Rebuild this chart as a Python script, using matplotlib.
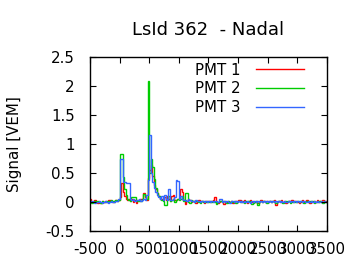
import numpy as np
import matplotlib
matplotlib.use('Agg')
import matplotlib.pyplot as plt

# trace signals in 25 ns bins, from -500 ns to 3500 ns
t_start = -500
t_stop = 3500
bin_width = 25

pmt1 = [0.05, 0.0, 0.02, 0.04, 0.0, -0.01, 0.0, -0.02, 0.01, 0.0, 0.02, 0.0, 0.04, 0.03, 0.01, 0.0, 0.02, 0.04, 0.01, 0.03,
        0.08, 0.32, 0.18, 0.1, 0.05, 0.03, 0.05, 0.02, 0.06, 0.0, 0.03, -0.01, 0.04, 0.02, 0.05, 0.06, 0.15, 0.08, 0.04, 0.42,
        0.55, 0.64, 0.45, 0.3, 0.22, 0.15, 0.1, 0.06, 0.05, 0.03, 0.08, 0.04, 0.1, 0.05, 0.02, 0.1, 0.12, 0.04, 0.03, 0.05,
        0.05, 0.22, 0.18, 0.04, -0.03, 0.02, 0.05, 0.03, 0.0, 0.02, 0.01, -0.02, 0.01, 0.03, 0.0, 0.02, 0.0, -0.02, 0.01, 0.0,
        0.02, 0.0, 0.01, 0.03, 0.08, 0.0, -0.01, 0.0, 0.02, 0.0, -0.03, 0.01, 0.0, 0.02, 0.0, 0.01, -0.01, 0.0, 0.02, 0.0,
        0.04, 0.04, 0.0, 0.01, 0.03, 0.0, -0.02, 0.01, 0.03, 0.0, 0.02, 0.0, 0.01, -0.02, 0.0, 0.03, 0.0, 0.01, 0.0, 0.02,
        0.0, 0.02, 0.0, 0.01, 0.03, -0.05, 0.0, 0.01, 0.0, 0.03, 0.0, 0.02, -0.01, 0.0, 0.01, 0.0, 0.03, 0.0, 0.02, 0.01,
        0.0, -0.02, 0.0, 0.03, 0.0, 0.01, 0.04, 0.0, -0.02, 0.01, 0.0, 0.02, 0.0, 0.03, 0.0, 0.01, 0.0, 0.04, 0.0, 0.02]

pmt2 = [0.01, -0.02, 0.0, 0.01, 0.0, 0.02, 0.0, -0.01, 0.01, 0.0, 0.0, 0.02, 0.0, 0.01, 0.04, 0.02, 0.0, 0.03, 0.01, 0.04,
        0.82, 0.82, 0.43, 0.22, 0.12, 0.06, 0.04, 0.02, 0.08, 0.08, 0.08, 0.02, 0.01, 0.04, 0.02, 0.06, 0.13, 0.1, 0.05, 2.09,
        0.5, 0.74, 0.6, 0.4, 0.25, 0.15, 0.1, 0.06, 0.04, 0.02, -0.05, -0.06, 0.05, 0.1, 0.02, 0.03, 0.06, 0.0, 0.04, 0.05,
        0.04, 0.06, 0.1, 0.02, 0.15, 0.15, 0.0, -0.02, 0.03, 0.01, 0.0, 0.02, 0.01, 0.0, -0.01, 0.02, 0.0, 0.01, 0.0, 0.02,
        0.0, 0.02, 0.0, 0.01, 0.0, -0.04, 0.0, 0.02, 0.01, 0.0, 0.02, 0.0, -0.01, 0.02, 0.0, 0.01, 0.0, 0.02, -0.02, 0.0,
        0.01, 0.0, 0.02, 0.0, -0.01, 0.01, 0.0, 0.02, 0.0, -0.03, -0.02, 0.0, 0.01, -0.06, 0.0, 0.02, 0.0, 0.01, 0.0, -0.01,
        0.0, 0.01, 0.0, 0.02, 0.0, -0.01, 0.0, 0.01, 0.02, 0.0, -0.02, 0.0, 0.01, 0.0, 0.02, -0.01, 0.0, 0.01, 0.0, 0.0,
        0.01, 0.0, 0.02, 0.0, -0.02, 0.0, 0.01, 0.0, 0.02, 0.0, 0.01, -0.02, 0.0, 0.01, 0.0, 0.02, 0.0, -0.01, 0.01, 0.0]

pmt3 = [0.0, 0.01, 0.0, -0.01, 0.0, 0.0, 0.01, 0.0, -0.02, 0.0, 0.01, 0.0, -0.01, 0.0, 0.02, 0.0, 0.0, 0.01, 0.02, 0.05,
        0.74, 0.74, 0.34, 0.34, 0.33, 0.33, 0.33, 0.06, 0.03, 0.05, 0.02, 0.04, 0.03, 0.05, 0.02, 0.04, 0.06, 0.03, 0.12, 0.38,
        1.15, 0.5, 0.35, 0.25, 0.18, 0.12, 0.08, 0.05, 0.1, 0.04, 0.12, 0.06, 0.03, 0.23, 0.04, 0.03, 0.05, 0.08, 0.38, 0.36,
        0.06, 0.1, 0.05, 0.03, 0.04, 0.02, 0.05, 0.03, 0.01, 0.02, 0.0, 0.03, 0.01, 0.02, 0.0, 0.01, 0.02, 0.0, 0.01, 0.0,
        0.01, 0.0, 0.02, 0.0, 0.01, 0.02, 0.0, 0.06, 0.06, 0.0, 0.01, 0.0, 0.02, 0.0, -0.01, 0.01, 0.02, 0.0, 0.01, 0.0,
        0.02, 0.0, 0.01, 0.0, 0.02, 0.0, 0.01, 0.0, -0.01, 0.02, 0.0, 0.01, 0.0, 0.02, 0.0, 0.01, 0.0, 0.02, 0.0, 0.01,
        0.0, 0.02, 0.0, 0.01, 0.0, 0.02, 0.0, 0.01, 0.0, 0.02, 0.0, 0.01, 0.0, 0.0, 0.02, 0.0, 0.01, 0.0, 0.02, 0.0,
        0.01, 0.0, 0.02, 0.0, 0.01, 0.0, 0.0, 0.02, 0.0, 0.01, 0.0, 0.02, 0.0, 0.01, 0.0, 0.0, 0.02, 0.0, 0.01, 0.0]

labels = ['PMT 1', 'PMT 2', 'PMT 3']
colors = ['#ff0000', '#00cc00', '#3366ff']
xticks = [-500, 0, 500, 1000, 1500, 2000, 2500, 3000, 3500]
yticks = [-0.5, 0, 0.5, 1, 1.5, 2, 2.5]

plt.rcParams['font.family'] = ['DejaVu Sans']
plt.rcParams['font.size'] = 10.8

edges = np.arange(t_start, t_stop + bin_width, bin_width)

fig = plt.figure(figsize=(3.6, 2.7), dpi=100)
ax = fig.add_axes([0.25, 0.1444, 0.658, 0.6444])

for vals, lab, col in zip([pmt1, pmt2, pmt3], labels, colors):
    ax.stairs(vals, edges, color=col, lw=1.0, label=lab, baseline=None)

ax.set_xlim(-500, 3500)
ax.set_ylim(-0.5, 2.5)
ax.set_xticks(xticks)
ax.set_xticklabels([str(v) for v in xticks])
ax.set_yticks(yticks)
ax.set_yticklabels(['%g' % v for v in yticks])
ax.tick_params(direction='in', top=True, right=True, length=4, width=0.8)
ax.tick_params(axis='x', pad=8)
ax.tick_params(axis='y', pad=11)
for s in ax.spines.values():
    s.set_linewidth(1.0)

ax.set_title('LsId 362  - Nadal', pad=16)
ax.set_ylabel('Signal [VEM]', labelpad=17)

ax.legend(loc='upper right', frameon=False, markerfirst=False, handlelength=3.2,
          handletextpad=1.0, labelspacing=0.25, borderaxespad=0.2,
          bbox_to_anchor=(0.94, 1.02))

fig.savefig('out.png', dpi=100)
